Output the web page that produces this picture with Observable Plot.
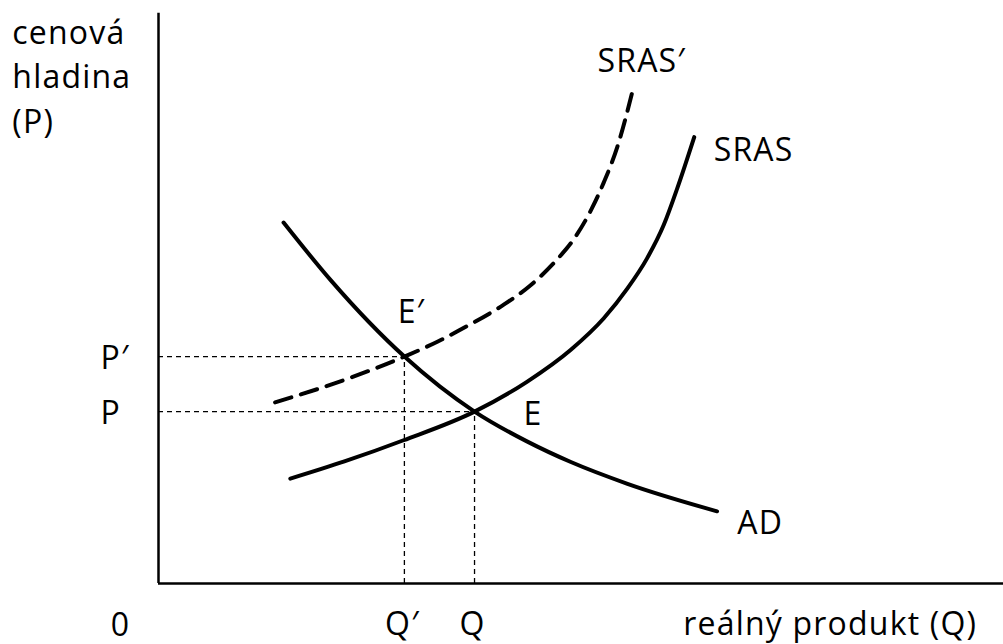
<!DOCTYPE html>
<html>
<head>
<meta charset="utf-8">
<script src="https://cdn.jsdelivr.net/npm/d3@7"></script>
<script src="https://cdn.jsdelivr.net/npm/@observablehq/plot@0.6"></script>
<style>
  html, body { margin: 0; padding: 0; background: #fff; }
  #chart svg { display: block; }
  #chart svg text { letter-spacing: 1.2px; }
</style>
</head>
<body>
<div id="chart"></div>
<script>
// Equilibrium values (Q = real product, P = price level), in chart units 0..100
const Qeq = 37.4, Peq = 30.0;      // E
const Qeq2 = 29.1, Peq2 = 39.6;    // E'

// Curves as [Q, P] points
const adCurve = [[14.8,63.0],[20.4,52.9],[29.1,39.6],[37.4,30.0],[43.6,24.8],[48.8,21.2],[55.5,17.4],[66.1,12.6]];
const srasCurve = [[15.6,18.3],[22.0,21.3],[29.0,25.0],[37.4,30.0],[43.6,35.2],[48.8,40.8],[52.7,46.3],[55.5,51.5],[57.8,56.7],[59.8,62.6],[61.4,69.0],[63.4,77.9]];
const sras2Curve = [[13.8,31.6],[22.7,35.9],[29.1,39.6],[33.0,42.2],[36.5,44.9],[40.9,48.7],[44.0,52.0],[47.2,56.6],[49.1,60.0],[51.3,65.5],[52.7,70.0],[54.3,76.2],[56.06,85.7]];

// Curve labels [text, Q, P]
const curveLabels = [["SRAS′",51.95,89.2],["SRAS",65.7,73.8],["E′",28.3,45.4],["E",43.2,27.6],["AD",68.5,8.7]];
// Axis title lines
const yTitle = ["cenová","hladina","(P)"];
const yTitleP = [94.2,86.4,78.7];
const xTitle = "reálný produkt (Q)";
// Tick labels
const pTicks = [["P′",Peq2],["P",Peq]];
const qTicks = [["Q′",Qeq2],["Q",Qeq]];

const FONT = "Open Sans";
const FS = 32;
const FW = 500;
const toObj = a => ({q:a[0], p:a[1]});

const chart = Plot.plot({
  width: 1003,
  height: 644,
  marginLeft: 158,
  marginRight: 0,
  marginTop: 10,
  marginBottom: 61,
  x: {domain: [0, 100], axis: null},
  y: {domain: [0, 100], axis: null},
  style: {fontFamily: FONT, background: "#fff", color: "#000"},
  marks: [
    // axes
    Plot.ruleX([0], {y1: 0, y2: 99.5, stroke: "#000", strokeWidth: 2.5}),
    Plot.ruleY([0], {x1: 0, x2: 100, stroke: "#000", strokeWidth: 2.5}),
    // dashed guide lines
    Plot.ruleY([Peq2], {x1: 0, x2: Qeq2, stroke: "#000", strokeWidth: 1.3, strokeDasharray: "5,4"}),
    Plot.ruleY([Peq], {x1: 0, x2: Qeq, stroke: "#000", strokeWidth: 1.3, strokeDasharray: "5,4"}),
    Plot.ruleX([Qeq2], {y1: 0, y2: Peq2, stroke: "#000", strokeWidth: 1.3, strokeDasharray: "5,4"}),
    Plot.ruleX([Qeq], {y1: 0, y2: Peq, stroke: "#000", strokeWidth: 1.3, strokeDasharray: "5,4"}),
    // curves
    Plot.line(adCurve.map(toObj), {x: "q", y: "p", curve: "monotone-x", stroke: "#000", strokeWidth: 4}),
    Plot.line(srasCurve.map(toObj), {x: "q", y: "p", curve: "monotone-x", stroke: "#000", strokeWidth: 4}),
    Plot.line(sras2Curve.map(toObj), {x: "q", y: "p", curve: "monotone-x", stroke: "#000", strokeWidth: 4, strokeDasharray: "17,10"}),
    // curve labels
    Plot.text(curveLabels, {x: d => d[1], y: d => d[2], text: d => d[0], textAnchor: "start", lineAnchor: "bottom", fontSize: FS, fontWeight: FW, fill: "#000"}),
    // y axis title
    Plot.text(yTitle, {x: -17.3, y: (d, i) => yTitleP[i], text: d => d, textAnchor: "start", lineAnchor: "bottom", fontSize: FS, fontWeight: FW, fill: "#000"}),
    // P tick labels
    Plot.text(pTicks, {x: 0, y: d => d[1], text: d => d[0], textAnchor: "start", lineAnchor: "middle", dx: -58, dy: 2, fontSize: FS, fontWeight: FW, fill: "#000"}),
    // Q tick labels
    Plot.text(qTicks, {x: d => d[1], y: 0, text: d => d[0], textAnchor: "middle", lineAnchor: "bottom", dx: -2, dy: 51, fontSize: FS, fontWeight: FW, fill: "#000"}),
    // origin
    Plot.text(["0"], {x: 0, y: 0, text: d => d, textAnchor: "middle", lineAnchor: "bottom", dx: -38, dy: 52, fontSize: FS, fontWeight: FW, fill: "#000"}),
    // x axis title
    Plot.text([xTitle], {x: 62.1, y: 0, text: d => d, textAnchor: "start", lineAnchor: "bottom", dy: 51, fontSize: FS, fontWeight: FW, fill: "#000"})
  ]
});
document.getElementById("chart").appendChild(chart);
</script>
</body>
</html>
